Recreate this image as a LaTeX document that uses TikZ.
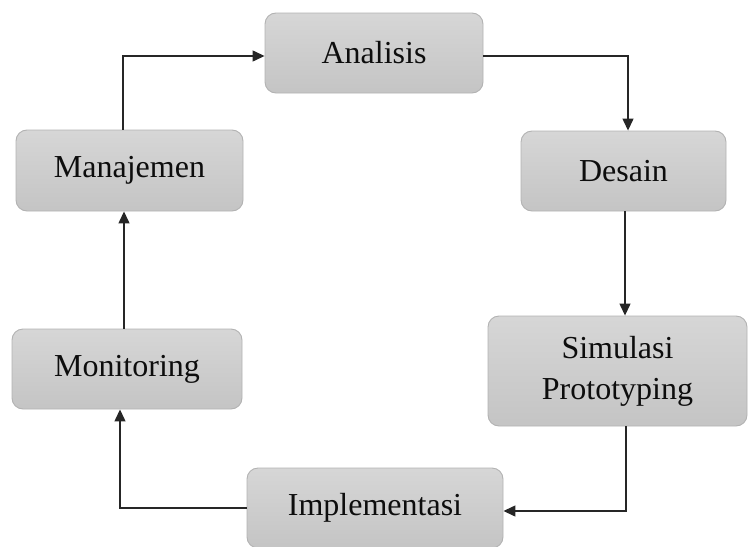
\documentclass[tikz,border=0pt]{standalone}
\usepackage{fontspec}
\setmainfont{Liberation Serif}
\usetikzlibrary{arrows.meta}
\tikzset{
  boxstyle/.style={draw=black!30, line width=0.9pt, rounded corners=11pt,
    top color=black!16, bottom color=black!23, align=center,
    font=\fontsize{32}{41}\selectfont, text=black!95, inner sep=0pt},
  arr/.style={line width=1.3pt, black!85, -{Triangle[length=12pt,width=11pt]}}
}
\begin{document}
\begin{tikzpicture}[x=1pt,y=-1pt]
\useasboundingbox (0,0) rectangle (749,546);
\clip (0,0) rectangle (749,546);
\node[boxstyle, minimum width=218pt, minimum height=80pt] (anal) at (374,53) {Analisis};
\node[boxstyle, minimum width=205pt, minimum height=80pt] (desain) at (623.5,171) {Desain};
\node[boxstyle, minimum width=259pt, minimum height=110pt] (simul) at (617.5,371) {Simulasi\\Prototyping};
\node[boxstyle, minimum width=256pt, minimum height=80pt] (impl) at (375,508) {Implementasi};
\node[boxstyle, minimum width=227pt, minimum height=81pt] (manaj) at (129.5,170.5) {Manajemen};
\node[boxstyle, minimum width=230pt, minimum height=80pt] (monit) at (127,369) {Monitoring};
\draw[arr] ([xshift=-6.5pt]manaj.north) |- ([yshift=-3pt]anal.west);
\draw[arr] ([yshift=-3pt]anal.east) -| ([xshift=4.5pt]desain.north);
\draw[arr] ([xshift=1.5pt]desain.south) -- ([xshift=1.5pt]desain.south |- simul.north);
\draw[arr] ([xshift=8.5pt]simul.south) |- ([yshift=-3pt]impl.east);
\draw[arr] (impl.west) -| ([xshift=-7pt]monit.south);
\draw[arr] ([xshift=-3pt]monit.north) -- ([xshift=-3pt]monit.north |- manaj.south);
\end{tikzpicture}
\end{document}
